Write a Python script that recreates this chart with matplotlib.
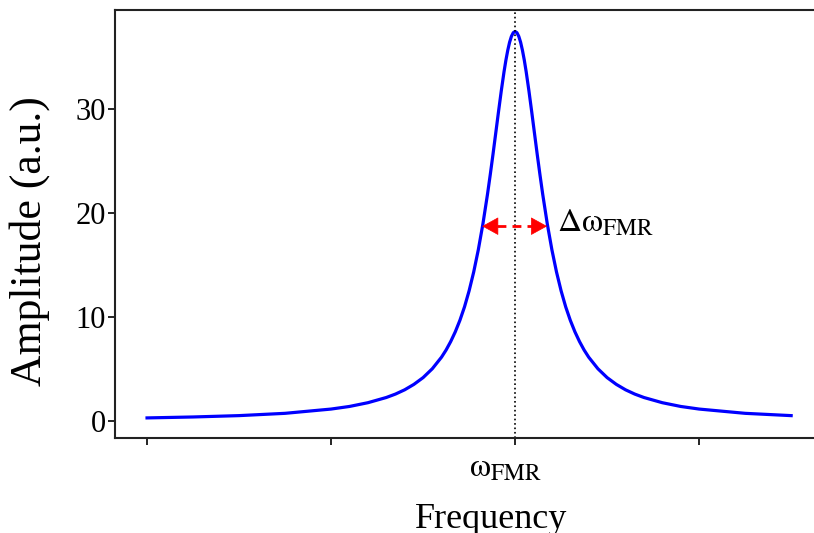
import numpy as np
import matplotlib
matplotlib.use("Agg")
import matplotlib.pyplot as plt
import matplotlib.transforms as mtransforms

plt.rcParams['font.family'] = ['Liberation Serif', 'DejaVu Serif']
plt.rcParams['mathtext.fontset'] = 'stix'

# frequency offset from resonance (arb. units) and measured amplitude
freq = [-2.0, -1.75, -1.5, -1.25, -1.0, -0.9, -0.8, -0.7, -0.65, -0.6,
        -0.55, -0.5, -0.45, -0.4, -0.375, -0.35, -0.325, -0.3, -0.275, -0.25,
        -0.225, -0.2, -0.175, -0.15, -0.135, -0.12, -0.1, -0.09, -0.075, -0.06,
        -0.05, -0.04, -0.03, -0.02, -0.01, 0.0, 0.01, 0.02, 0.03, 0.04,
        0.05, 0.06, 0.075, 0.09, 0.1, 0.12, 0.135, 0.15, 0.175, 0.2,
        0.225, 0.25, 0.275, 0.3, 0.325, 0.35, 0.375, 0.4, 0.45, 0.5,
        0.55, 0.6, 0.65, 0.7, 0.8, 0.9, 1.0, 1.25, 1.5]
amplitude = [0.29, 0.38, 0.51, 0.73, 1.14, 1.39, 1.75, 2.25, 2.58, 2.99,
             3.51, 4.16, 5.01, 6.12, 6.81, 7.62, 8.56, 9.66, 10.95, 12.49,
             14.30, 16.43, 18.91, 21.77, 23.65, 25.62, 28.35, 29.72, 31.71, 33.55,
             34.64, 35.58, 36.36, 36.93, 37.28, 37.40, 37.28, 36.93, 36.36, 35.58,
             34.64, 33.55, 31.71, 29.72, 28.35, 25.62, 23.65, 21.77, 18.91, 16.43,
             14.30, 12.49, 10.95, 9.66, 8.56, 7.62, 6.81, 6.12, 5.01, 4.16,
             3.51, 2.99, 2.58, 2.25, 1.75, 1.39, 1.14, 0.73, 0.51]

# linewidth marker (half maximum)
fwhm_left = -0.179
fwhm_right = 0.174
half_max = 18.7
head_len = 0.082  # arrow head length in frequency units

xticks = [-2, -1, 0, 1]
xtick_labels = ['', '', r'$\mathrm{\omega_{FMR}}$', '']
yticks = [0, 10, 20, 30]

fig = plt.figure(figsize=(8.14, 5.33), dpi=100)
# axes run past the right edge of the canvas
ax = fig.add_axes([0.1413, 0.179, 0.924, 0.803])

ax.plot(freq, amplitude, color='#0000ff', lw=2.3)
ax.axvline(0, color='black', ls=':', lw=1.2)

# dashed shaft with two solid heads
ax.plot([fwhm_left + head_len, fwhm_right - head_len], [half_max, half_max],
        color='red', ls=(0, (3.2, 2.2)), lw=2)
head = dict(arrowstyle='-|>,head_length=0.4,head_width=0.22', color='red',
            lw=0.5, mutation_scale=27, shrinkA=0, shrinkB=0)
ax.annotate('', xy=(fwhm_left, half_max), xytext=(fwhm_left + head_len, half_max),
            arrowprops=head)
ax.annotate('', xy=(fwhm_right, half_max), xytext=(fwhm_right - head_len, half_max),
            arrowprops=head)
ax.text(0.226, half_max + 0.3, r'$\mathrm{\Delta\omega_{FMR}}$', fontsize=24,
        va='center', ha='left')

ax.set_xlim(-2.174, 1.913)
ax.set_ylim(-1.6, 39.5)
ax.set_xticks(xticks)
ax.set_xticklabels(xtick_labels, fontsize=24)
ax.set_yticks(yticks)
ax.tick_params(axis='y', labelsize=22, length=5, width=1.2, direction='out', pad=1.5)
ax.tick_params(axis='x', length=5, width=1.2, direction='out', pad=6)

shift = mtransforms.ScaledTranslation(-10 / 100, 0, fig.dpi_scale_trans)
for lbl in ax.get_xticklabels():
    lbl.set_transform(lbl.get_transform() + shift)

ax.set_xlabel('Frequency', fontsize=26, labelpad=14)
ax.set_ylabel('Amplitude (a.u.)', fontsize=31.5)
ax.yaxis.set_label_coords(-0.0864, 0.459)

for side in ['left', 'bottom', 'top', 'right']:
    ax.spines[side].set_linewidth(1.5)
    ax.spines[side].set_color('#222222')

fig.savefig('out.png', dpi=100)
